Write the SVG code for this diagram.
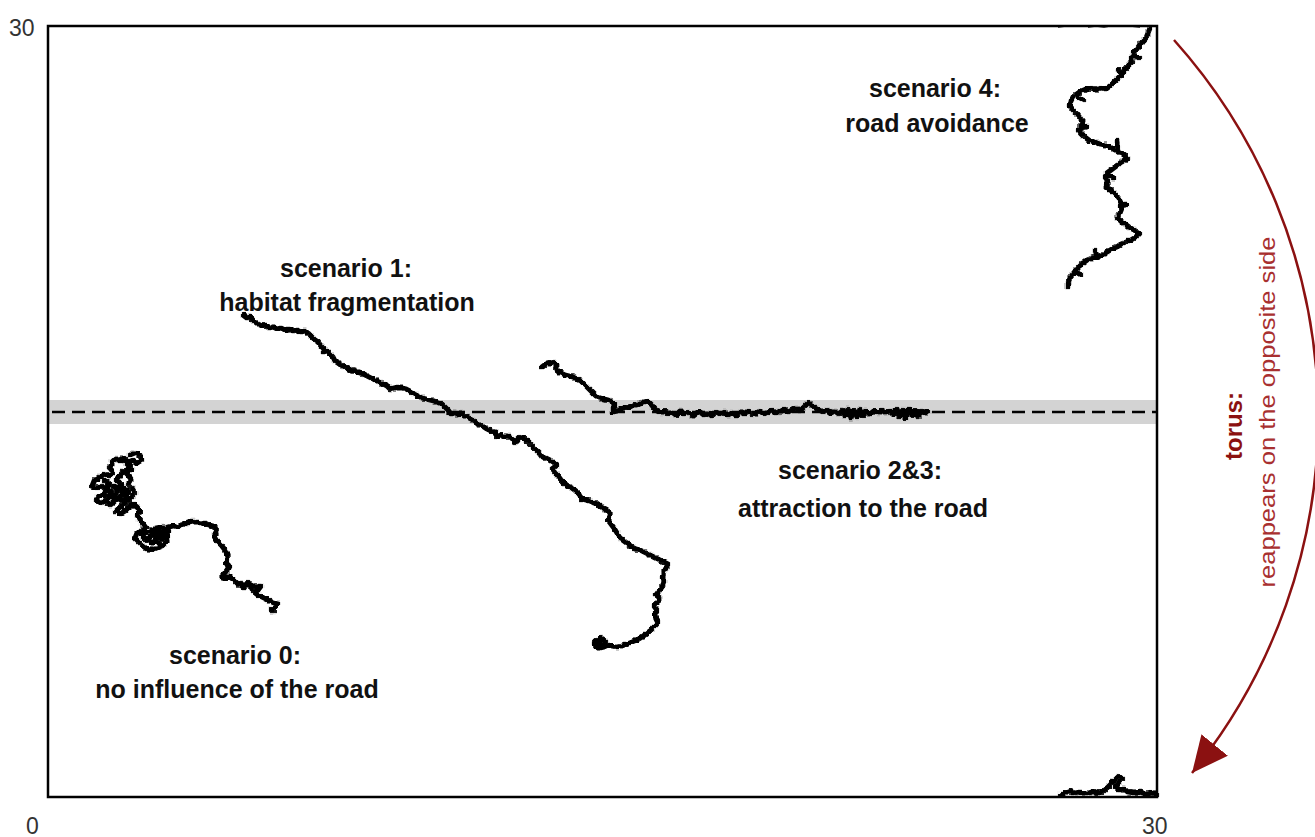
<svg xmlns="http://www.w3.org/2000/svg" width="1315" height="837" viewBox="0 0 1315 837">
<style>
.lbl{font-family:"Liberation Sans",Arial,Helvetica,sans-serif;font-weight:bold;font-size:25px;fill:#111;text-anchor:middle}
.ax{font-family:"Liberation Sans",Arial,Helvetica,sans-serif;font-size:23px;fill:#333}
.walk{fill:none;stroke:#000;stroke-width:2.4;stroke-linejoin:round;stroke-linecap:round;filter:url(#jit)}
.tor{fill:none;stroke:#8b1111;stroke-width:2.5}
</style>
<defs>
<filter id="jit" filterUnits="userSpaceOnUse" x="0" y="0" width="1315" height="837">
<feTurbulence type="fractalNoise" baseFrequency="0.3" numOctaves="2" seed="7" result="t"/>
<feDisplacementMap in="SourceGraphic" in2="t" scale="4" xChannelSelector="R" yChannelSelector="G" result="d"/>
<feMorphology in="d" operator="dilate" radius="0.7"/>
</filter>
<marker id="ah" markerUnits="userSpaceOnUse" markerWidth="46" markerHeight="46" refX="36" refY="17" orient="auto">
<path d="M0,0 L36,17 L0,34 z" fill="#8b1111"/>
</marker>
</defs>
<rect width="1315" height="837" fill="#fff"/>
<g id="road">
<rect x="48" y="400" width="1109" height="24" fill="#d3d3d3"/>
<line x1="52" y1="412" x2="1157" y2="412" stroke="#000" stroke-width="2.5" stroke-dasharray="13 7"/>
</g>
<g id="frame">
<rect x="48" y="26" width="1109" height="771" fill="none" stroke="#000" stroke-width="2.5"/>
</g>
<g id="axes">
<text class="ax" x="9" y="36">30</text>
<text class="ax" x="26" y="834">0</text>
<text class="ax" x="1142" y="834">30</text>
</g>
<g id="scenario0">
<path class="walk" d="M130,455 L135,453 L140,455 L142,460 L137,463 L133,460 L128,462 L124,458 L120,461 L116,458 L112,462 L110,468 L113,472 L109,476 L104,474 L99,478 L94,481 L92,486 L97,488 L102,486 L106,490 L104,495 L99,496 L96,500 L101,503 L106,501 L110,505 L114,502 L118,498 L122,501 L126,497 L129,492 L124,488 L120,484 L116,480 L120,475 L124,471 L128,475 L131,479 L128,484 L132,488 L135,493 L130,498 L125,503 L120,507 L116,511 L120,514 L125,511 L129,507 L133,504 L137,507 L140,511 L137,516 L140,520 L143,524 L146,528 L142,531 L137,533 L135,538 L139,542 L143,546 L147,549 L152,550 L157,548 L162,546 L166,542 L168,537 L164,533 L159,531 L154,534 L150,538 L146,541 L142,537 L146,533 L151,531 L156,528 L161,527 L165,529 L162,535 L157,540 L152,543 L148,538 L153,534 L158,537 L163,540 L167,535 L169,527 L173,526 L177,527 L181,525 L185,524 L189,522 L193,521 L197,523 L201,524 L205,523 L209,525 L213,526 L217,528 L216,532 L214,536 L216,540 L219,543 L222,546 L225,550 L227,554 L228,558 L226,562 L229,566 L227,570 L224,574 L222,578 L226,579 L230,577 L234,580 L237,583 L241,586 L245,585 L249,584 L253,586 L257,587 L261,586 L258,590 L254,592 L258,595 L262,597 L266,599 L270,601 L274,603 L278,604 L275,607 L271,609 L274,612"/>
<path class="walk" d="M104,480 L110,484 L106,489 L112,492 L108,497 L115,495 L118,490 L113,486 L120,488 L124,494 L119,497 M126,462 L130,466 L126,470 L132,470 M240,583 L244,588 L248,582 L252,589 M150,536 L158,533 L155,541 L160,544"/>
<text class="lbl" x="235" y="664">scenario 0:</text>
<text class="lbl" x="237" y="698">no influence of the road</text>
</g>
<g id="scenario1">
<path class="walk" d="M243,315 L247,318 L250,317 L254,321 L258,324 L262,326 L265,325 L269,328 L273,327 L277,329 L281,328 L285,330 L289,329 L293,331 L297,330 L301,332 L305,331 L309,334 L312,337 L315,340 L318,342 L321,346 L324,349 L323,352 L327,351 L330,354 L333,357 L335,361 L339,363 L343,366 L347,368 L351,370 L355,371 L359,373 L363,374 L367,376 L371,378 L375,380 L379,382 L383,384 L387,386 L390,389 L394,388 L398,387 L402,388 L406,389 L410,391 L414,394 L418,396 L422,398 L426,399 L430,400 L434,401 L438,403 L442,404 L445,407 L448,410 L451,414 L455,413 L458,415 L462,413 L465,416 L469,418 L473,420 L476,423 L480,425 L484,427 L487,429 L491,431 L495,432 L497,436 L501,435 L505,437 L509,436 L513,439 L515,443 L517,440 L520,437 L524,438 L527,441 L530,444 L533,447 L536,450 L539,453 L542,457 L546,458 L550,460 L555,463 L556,466 L552,469 L555,473 L558,476 L561,480 L564,483 L568,486 L572,488 L576,491 L579,495 L582,499 L586,500 L590,501 L594,503 L598,504 L601,507 L605,509 L609,512 L610,516 L608,520 L611,524 L614,528 L617,533 L620,538 L624,541 L628,544 L632,547 L636,549 L640,550 L644,552 L648,554 L652,556 L656,558 L660,560 L664,562 L668,564 L666,568 L664,572 L663,577 L664,582 L662,587 L659,591 L656,595 L660,598 L657,602 L654,606 L657,610 L655,614 L656,619 L658,623 L654,627 L650,631 L646,634 L642,637 L637,640 L632,642 L627,644 L622,646 L617,647 L612,646 L608,645 L604,647 L600,648 L596,646 L594,643 L597,640 L602,639 L606,642 L603,645 L598,644 L596,641 L601,638 L605,640"/>
<text class="lbl" x="346" y="277">scenario 1:</text>
<text class="lbl" x="347" y="311">habitat fragmentation</text>
</g>
<g id="scenario23">
<path class="walk" d="M542,367 L546,364 L550,363 L554,362 L556,366 L557,370 L561,373 L565,375 L569,376 L573,377 L577,379 L581,381 L584,384 L587,387 L590,390 L593,393 L596,396 L600,398 L604,399 L608,400 L612,402 L615,404 L613,408 L613,412 L617,411 L620,409 L624,408 L628,407 L632,406 L636,405 L640,404 L644,402 L648,401 L651,404 L654,408 L657,411 L661,413 L665,411 L668,414 L672,412 L676,415 L680,411 L684,414 L688,412 L692,416 L696,413 L700,412 L704,415 L708,413 L712,416 L716,412 L720,414 L724,412 L728,415 L732,413 L736,416 L740,412 L744,414 L748,411 L752,415 L756,413 L760,411 L764,414 L768,412 L772,410 L776,413 L780,411 L784,409 L788,412 L792,410 L796,408 L800,411 L804,407 L808,403 L812,405 L815,408 L819,410 L823,412 L827,410 L831,413 L835,411 L839,414 L843,410 L845,416 L848,409 L851,418 L854,410 L857,417 L860,409 L863,416 L866,411 L870,414 L874,411 L878,413 L882,410 L886,413 L890,411 L894,414 L897,409 L900,417 L903,410 L906,418 L909,409 L912,416 L915,410 L918,417 L921,411 L925,413 L928,411"/>
<path class="walk" d="M845,412 L850,415 L855,411 L860,414 M899,413 L905,411 L911,414 L917,412"/>
<text class="lbl" x="860" y="479">scenario 2&amp;3:</text>
<text class="lbl" x="863" y="517">attraction to the road</text>
</g>
<g id="scenario4">
<path class="walk" d="M1150,28 L1148,33 L1146,38 L1142,42 L1139,46 L1136,50 L1133,54 L1131,58 L1132,62 L1128,66 L1125,70 L1122,74 L1118,78 L1114,82 L1110,86 L1106,89 L1101,88 L1096,90 L1091,88 L1086,89 L1081,91 L1077,94 L1073,97 L1071,101 L1070,106 L1073,110 L1077,114 L1080,118 L1083,122 L1081,126 L1079,130 L1082,134 L1086,138 L1090,141 L1095,142 L1100,144 L1105,145 L1110,147 L1115,150 L1119,152 L1124,155 L1127,158 L1123,161 L1119,164 L1115,167 L1111,170 L1107,173 L1105,177 L1108,181 L1106,185 L1109,189 L1113,192 L1116,195 L1119,199 L1121,203 L1122,208 L1120,213 L1117,218 L1121,221 L1125,224 L1129,227 L1134,230 L1139,233 L1136,237 L1131,240 L1126,242 L1121,244 L1117,247 L1112,249 L1107,252 L1102,255 L1097,257 L1092,258 L1087,260 L1083,263 L1079,266 L1076,270 L1073,274 L1070,278 L1068,283 L1068,288"/>
<path class="walk" d="M1134,55 L1139,58 M1122,76 L1119,70 M1078,97 L1084,100 M1080,128 L1087,127 M1118,148 L1117,141 M1108,176 L1114,178 M1120,206 L1126,205 M1097,256 L1095,250 M1076,272 L1081,275"/>
<path class="walk" d="M1060,795 L1065,793 L1070,791 L1075,793 L1080,792 L1086,794 L1092,792 L1098,793 L1104,791 L1108,787 L1112,783 L1116,779 L1119,776 L1122,779 L1118,783 L1115,787 L1119,790 L1124,789 L1128,792 L1134,793 L1140,792 L1146,794 L1152,793 L1157,795"/>
<path fill="none" stroke="#000" stroke-width="1.5" d="M1058,27 L1066,26 M1088,27 L1096,26 L1104,27 L1110,26 M1130,26 L1140,27"/>
<text class="lbl" x="935" y="97">scenario 4:</text>
<text class="lbl" x="937" y="132">road avoidance</text>
</g>
<g id="connectors">
<path class="tor" d="M1174,40 A565,565 0 0 1 1192,773" marker-end="url(#ah)"/>
</g>
<g id="torus">
<text transform="translate(1242,426) rotate(-90)" font-family="'Liberation Sans',Arial,sans-serif" font-weight="bold" font-size="24" fill="#8b1111" text-anchor="middle">torus:</text>
<text transform="translate(1275,412) rotate(-90)" font-family="'Liberation Sans',Arial,sans-serif" font-size="22" fill="#a83030" text-anchor="middle" textLength="351" lengthAdjust="spacingAndGlyphs">reappears on the opposite side</text>
</g>
</svg>
